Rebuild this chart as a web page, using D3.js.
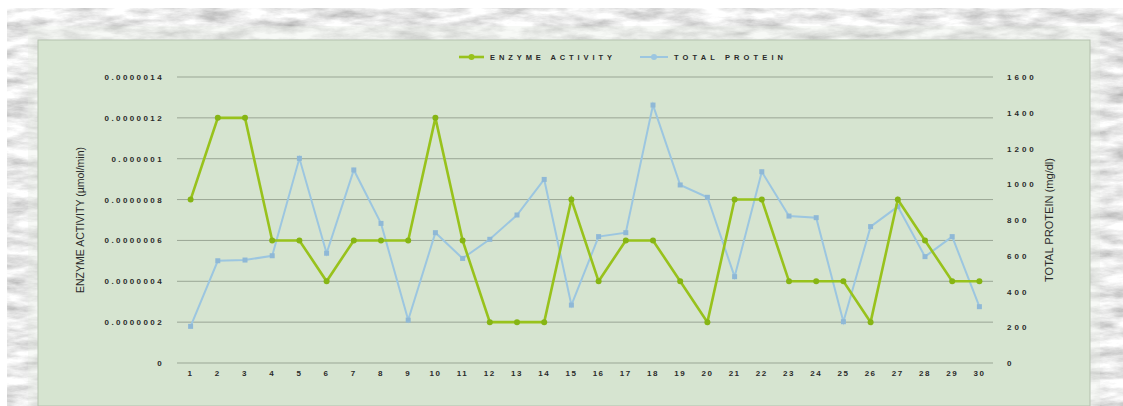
<!DOCTYPE html>
<meta charset="utf-8">
<script src="https://d3js.org/d3.v7.min.js"></script>
<style>
  body { margin: 0; background: #fff; }
  text { font-family: "Liberation Sans", Arial, sans-serif; fill: #2a2a2a; }
</style>
<body>
<div id="chart"></div>
<script>
// samples 1..30
var samples = d3.range(1, 31);
// enzyme activity (umol/min), left axis
var enzyme = [8e-7, 12e-7, 12e-7, 6e-7, 6e-7, 4e-7, 6e-7, 6e-7, 6e-7, 12e-7,
              6e-7, 2e-7, 2e-7, 2e-7, 8e-7, 4e-7, 6e-7, 6e-7, 4e-7, 2e-7,
              8e-7, 8e-7, 4e-7, 4e-7, 4e-7, 2e-7, 8e-7, 6e-7, 4e-7, 4e-7];
// total protein (mg/dl), right axis
var protein = [205, 572, 576, 600, 1145, 614, 1080, 781, 240, 729,
               585, 692, 828, 1027, 324, 707, 729, 1443, 996, 927,
               483, 1070, 822, 813, 231, 763, 875, 595, 707, 315];
var leftTicks = [0, 2e-7, 4e-7, 6e-7, 8e-7, 10e-7, 12e-7, 14e-7];
var leftTickLabels = ["0", "0.0000002", "0.0000004", "0.0000006", "0.0000008", "0.000001", "0.0000012", "0.0000014"];
var rightTicks = [0, 200, 400, 600, 800, 1000, 1200, 1400, 1600];
var seriesNames = ["ENZYME ACTIVITY", "TOTAL PROTEIN"];

var W = 1123, H = 406;
var svg = d3.select("#chart").append("svg").attr("width", W).attr("height", H);

// marble frame
var defs = svg.append("defs");
var f = defs.append("filter").attr("id", "marble").attr("x", 0).attr("y", 0).attr("width", "100%").attr("height", "100%");
f.append("feTurbulence").attr("type", "fractalNoise").attr("baseFrequency", "0.03 0.1").attr("numOctaves", 5).attr("seed", 11).attr("result", "n");
f.append("feColorMatrix").attr("in", "n").attr("type", "matrix")
  .attr("values", "0.9 0 0 0 0.37  0.9 0 0 0 0.37  0.9 0 0 0 0.37  0 0 0 0 1");

svg.append("rect").attr("x", 7).attr("y", 8).attr("width", W - 7).attr("height", H - 8)
  .attr("filter", "url(#marble)");
svg.append("rect").attr("x", 28).attr("y", 26).attr("width", 1072).attr("height", H - 26)
  .attr("fill", "#e4ebe2").attr("opacity", 0.3);

// inner panel
svg.append("rect").attr("x", 38).attr("y", 40).attr("width", 1052).attr("height", H - 40)
  .attr("fill", "#d6e4d0").attr("stroke", "#b4c1ae").attr("stroke-width", 1);

var x = d3.scaleBand().domain(samples).range([177, 993]);
var yL = d3.scaleLinear().domain([0, 14e-7]).range([363, 77]);
var yR = d3.scaleLinear().domain([0, 1600]).range([363, 77]);

// gridlines
svg.append("g").selectAll("line").data(leftTicks).join("line")
  .attr("x1", 177).attr("x2", 993)
  .attr("y1", d => yL(d)).attr("y2", d => yL(d))
  .attr("stroke", "#9aa695").attr("stroke-width", 1);

// left axis labels
svg.append("g").selectAll("text").data(leftTicks).join("text")
  .attr("x", 164).attr("y", d => yL(d) + 3)
  .attr("text-anchor", "end")
  .attr("font-size", 8).attr("letter-spacing", 2.4).attr("font-weight", "bold")
  .text((d, i) => leftTickLabels[i]);

// right axis labels
svg.append("g").selectAll("text").data(rightTicks).join("text")
  .attr("x", 1007).attr("y", d => yR(d) + 3)
  .attr("font-size", 8).attr("letter-spacing", 3).attr("font-weight", "bold")
  .text(d => d);

// x labels
svg.append("g").selectAll("text").data(samples).join("text")
  .attr("x", d => x(d) + x.bandwidth() / 2).attr("y", 376)
  .attr("text-anchor", "middle")
  .attr("font-size", 8).attr("letter-spacing", 1.5).attr("font-weight", "bold")
  .text(d => d);

// axis titles
svg.append("text").attr("transform", "translate(84,220) rotate(-90)")
  .attr("text-anchor", "middle").attr("font-size", 11.5)
  .attr("textLength", 146).attr("lengthAdjust", "spacingAndGlyphs")
  .text("ENZYME ACTIVITY (\u00b5mol/min)");
svg.append("text").attr("transform", "translate(1053,220) rotate(-90)")
  .attr("text-anchor", "middle").attr("font-size", 11.5)
  .attr("textLength", 124).attr("lengthAdjust", "spacingAndGlyphs")
  .text("TOTAL PROTEIN (mg/dl)");

var cx = d => x(d) + x.bandwidth() / 2;

// total protein series
var blue = "#9cc6e0", green = "#98c21c";
svg.append("path").datum(protein)
  .attr("fill", "none").attr("stroke", blue).attr("stroke-width", 2)
  .attr("d", d3.line().x((d, i) => cx(samples[i])).y(d => yR(d)));
svg.append("g").selectAll("rect").data(protein).join("rect")
  .attr("x", (d, i) => cx(samples[i]) - 2.5).attr("y", d => yR(d) - 2.5)
  .attr("width", 5).attr("height", 5).attr("fill", "#8fb8d6");

// enzyme series
svg.append("path").datum(enzyme)
  .attr("fill", "none").attr("stroke", green).attr("stroke-width", 2.6)
  .attr("d", d3.line().x((d, i) => cx(samples[i])).y(d => yL(d)));
svg.append("g").selectAll("circle").data(enzyme).join("circle")
  .attr("cx", (d, i) => cx(samples[i])).attr("cy", d => yL(d))
  .attr("r", 3).attr("fill", "#86b514");

// legend
var leg = svg.append("g");
var legItems = [
  {name: seriesNames[0], color: green, x1: 459, x2: 484, tx: 490, w: 122, sw: 2.6},
  {name: seriesNames[1], color: blue, x1: 640, x2: 668, tx: 674, w: 109, sw: 2}
];
legItems.forEach(function(it) {
  leg.append("line").attr("x1", it.x1).attr("x2", it.x2).attr("y1", 57).attr("y2", 57)
    .attr("stroke", it.color).attr("stroke-width", it.sw);
  leg.append("circle").attr("cx", (it.x1 + it.x2) / 2).attr("cy", 57).attr("r", 3).attr("fill", it.color);
  leg.append("text").attr("x", it.tx).attr("y", 60).attr("font-size", 7.5).attr("font-weight", "bold")
    .attr("textLength", it.w).attr("lengthAdjust", "spacing").text(it.name);
});
</script>
</body>
